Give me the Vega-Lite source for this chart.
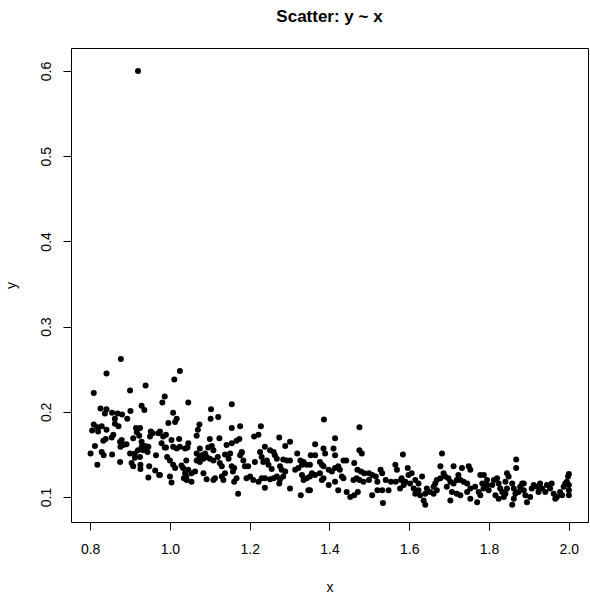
{
"$schema": "https://vega.github.io/schema/vega-lite/v6.json",
"width": 517, "height": 474,
"autosize": {"type": "none"},
"padding": {"left": 71, "top": 48, "right": 2, "bottom": 75},
"background": "white",
"config": {"view": {"stroke": "black", "strokeWidth": 1}, "font": "Liberation Sans"},
"title": {"text": "Scatter: y ~ x", "font": "Liberation Sans", "fontSize": 17, "fontWeight": "bold", "color": "black", "anchor": "middle", "offset": 22},
"data": {"values": [
{"x":0.92,"y":0.6},
{"x":0.877,"y":0.262},{"x":0.841,"y":0.245},{"x":0.809,"y":0.222},{"x":0.900,"y":0.225},{"x":0.939,"y":0.231},{"x":0.981,"y":0.211},{"x":0.929,"y":0.207},{"x":0.936,"y":0.202},{"x":0.826,"y":0.204},{"x":0.841,"y":0.203},{"x":0.837,"y":0.198},{"x":0.855,"y":0.199},{"x":0.869,"y":0.198},{"x":0.880,"y":0.197},{"x":0.901,"y":0.201},{"x":0.862,"y":0.192},{"x":0.893,"y":0.192},{"x":0.809,"y":0.185},{"x":0.818,"y":0.182},{"x":0.805,"y":0.178},{"x":0.820,"y":0.177},{"x":0.841,"y":0.179},{"x":0.862,"y":0.186},{"x":0.858,"y":0.173},{"x":0.854,"y":0.170},{"x":0.839,"y":0.168},{"x":0.833,"y":0.166},{"x":0.812,"y":0.160},{"x":0.801,"y":0.151},{"x":0.829,"y":0.153},{"x":0.834,"y":0.149},{"x":0.818,"y":0.138},{"x":0.855,"y":0.150},{"x":0.875,"y":0.165},{"x":0.883,"y":0.161},{"x":0.876,"y":0.159},{"x":0.891,"y":0.162},{"x":0.908,"y":0.169},{"x":0.915,"y":0.181},{"x":0.925,"y":0.181},{"x":0.923,"y":0.172},{"x":0.929,"y":0.165},{"x":0.929,"y":0.159},{"x":0.937,"y":0.157},{"x":0.946,"y":0.159},{"x":0.920,"y":0.155},{"x":0.952,"y":0.177},{"x":0.950,"y":0.171},{"x":0.971,"y":0.175},{"x":0.900,"y":0.151},{"x":0.912,"y":0.151},{"x":0.925,"y":0.147},{"x":0.875,"y":0.141},{"x":0.904,"y":0.140},{"x":0.908,"y":0.136},{"x":0.926,"y":0.138},{"x":0.926,"y":0.133},{"x":0.948,"y":0.136},{"x":0.946,"y":0.123},{"x":0.973,"y":0.126},{"x":0.965,"y":0.149},{"x":0.987,"y":0.158},{"x":0.983,"y":0.171},{"x":0.879,"y":0.167},
{"x":0.938,"y":0.160},{"x":0.933,"y":0.155},{"x":0.944,"y":0.153},{"x":0.917,"y":0.176},{"x":0.957,"y":0.175},{"x":0.871,"y":0.183},{"x":0.829,"y":0.183},{"x":0.912,"y":0.146},{"x":0.963,"y":0.131},
{"x":1.025,"y":0.248},{"x":1.011,"y":0.238},{"x":0.987,"y":0.218},{"x":1.046,"y":0.211},{"x":1.155,"y":0.209},{"x":1.103,"y":0.203},{"x":1.008,"y":0.199},{"x":1.017,"y":0.192},{"x":1.013,"y":0.188},{"x":0.996,"y":0.187},{"x":1.102,"y":0.192},{"x":1.121,"y":0.194},{"x":1.074,"y":0.185},{"x":1.070,"y":0.179},{"x":1.067,"y":0.172},{"x":1.155,"y":0.181},{"x":1.176,"y":0.183},{"x":0.990,"y":0.173},{"x":1.004,"y":0.167},{"x":1.023,"y":0.168},{"x":1.046,"y":0.163},{"x":1.100,"y":0.168},{"x":1.124,"y":0.169},{"x":1.008,"y":0.159},{"x":1.017,"y":0.157},{"x":1.025,"y":0.159},{"x":0.990,"y":0.158},{"x":1.038,"y":0.157},{"x":1.044,"y":0.158},{"x":1.075,"y":0.157},{"x":1.105,"y":0.160},{"x":1.109,"y":0.155},{"x":1.142,"y":0.161},{"x":1.155,"y":0.163},{"x":1.167,"y":0.166},{"x":1.174,"y":0.168},{"x":0.993,"y":0.147},{"x":1.000,"y":0.143},{"x":1.008,"y":0.138},{"x":1.013,"y":0.134},{"x":0.975,"y":0.126},{"x":1.000,"y":0.124},{"x":1.004,"y":0.117},{"x":1.033,"y":0.134},{"x":1.038,"y":0.128},{"x":1.035,"y":0.122},{"x":1.042,"y":0.120},{"x":1.054,"y":0.128},{"x":1.054,"y":0.118},{"x":1.067,"y":0.151},{"x":1.074,"y":0.147},{"x":1.080,"y":0.149},{"x":1.084,"y":0.145},{"x":1.088,"y":0.151},{"x":1.092,"y":0.147},{"x":1.067,"y":0.143},{"x":1.075,"y":0.141},{"x":1.100,"y":0.145},{"x":1.109,"y":0.143},{"x":1.084,"y":0.128},{"x":1.092,"y":0.121},{"x":1.109,"y":0.120},{"x":1.113,"y":0.122},{"x":1.130,"y":0.124},{"x":1.138,"y":0.128},{"x":1.134,"y":0.120},{"x":1.125,"y":0.140},{"x":1.130,"y":0.136},{"x":1.138,"y":0.150},{"x":1.147,"y":0.145},{"x":1.151,"y":0.151},{"x":1.155,"y":0.136},{"x":1.161,"y":0.134},{"x":1.158,"y":0.130},{"x":1.167,"y":0.122},{"x":1.161,"y":0.118},{"x":1.171,"y":0.104},{"x":1.180,"y":0.153},{"x":1.176,"y":0.149},{"x":0.975,"y":0.177},{"x":0.979,"y":0.163},
{"x":1.029,"y":0.137},{"x":1.041,"y":0.143},{"x":1.046,"y":0.132},{"x":1.041,"y":0.124},{"x":1.063,"y":0.130},{"x":1.120,"y":0.147},{"x":1.096,"y":0.158},
{"x":1.228,"y":0.183},{"x":1.211,"y":0.171},{"x":1.222,"y":0.173},{"x":1.274,"y":0.170},{"x":1.289,"y":0.160},{"x":1.386,"y":0.191},{"x":1.364,"y":0.162},{"x":1.319,"y":0.151},{"x":1.353,"y":0.149},{"x":1.364,"y":0.149},{"x":1.385,"y":0.157},{"x":1.180,"y":0.152},{"x":1.226,"y":0.153},{"x":1.238,"y":0.159},{"x":1.251,"y":0.155},{"x":1.260,"y":0.153},{"x":1.230,"y":0.147},{"x":1.234,"y":0.141},{"x":1.243,"y":0.143},{"x":1.213,"y":0.141},{"x":1.184,"y":0.143},{"x":1.188,"y":0.136},{"x":1.196,"y":0.136},{"x":1.247,"y":0.138},{"x":1.255,"y":0.133},{"x":1.276,"y":0.136},{"x":1.284,"y":0.144},{"x":1.293,"y":0.143},{"x":1.301,"y":0.143},{"x":1.263,"y":0.149},{"x":1.268,"y":0.145},{"x":1.192,"y":0.122},{"x":1.201,"y":0.124},{"x":1.209,"y":0.120},{"x":1.222,"y":0.118},{"x":1.230,"y":0.122},{"x":1.238,"y":0.122},{"x":1.251,"y":0.121},{"x":1.260,"y":0.122},{"x":1.268,"y":0.124},{"x":1.276,"y":0.121},{"x":1.284,"y":0.124},{"x":1.238,"y":0.111},{"x":1.274,"y":0.116},{"x":1.301,"y":0.110},{"x":1.280,"y":0.132},{"x":1.289,"y":0.130},{"x":1.314,"y":0.132},{"x":1.322,"y":0.134},{"x":1.331,"y":0.138},{"x":1.335,"y":0.141},{"x":1.327,"y":0.143},{"x":1.331,"y":0.126},{"x":1.335,"y":0.120},{"x":1.343,"y":0.122},{"x":1.351,"y":0.124},{"x":1.356,"y":0.128},{"x":1.364,"y":0.126},{"x":1.376,"y":0.128},{"x":1.381,"y":0.120},{"x":1.381,"y":0.138},{"x":1.376,"y":0.141},{"x":1.328,"y":0.102},{"x":1.347,"y":0.108},{"x":1.351,"y":0.108},{"x":1.301,"y":0.165},{"x":1.343,"y":0.138},{"x":1.351,"y":0.138},
{"x":1.475,"y":0.182},{"x":1.414,"y":0.169},{"x":1.410,"y":0.157},{"x":1.389,"y":0.151},{"x":1.414,"y":0.149},{"x":1.435,"y":0.143},{"x":1.442,"y":0.143},{"x":1.475,"y":0.155},{"x":1.481,"y":0.151},{"x":1.584,"y":0.150},{"x":1.385,"y":0.136},{"x":1.398,"y":0.132},{"x":1.406,"y":0.130},{"x":1.414,"y":0.134},{"x":1.422,"y":0.136},{"x":1.426,"y":0.132},{"x":1.385,"y":0.122},{"x":1.398,"y":0.114},{"x":1.414,"y":0.118},{"x":1.422,"y":0.108},{"x":1.431,"y":0.124},{"x":1.435,"y":0.122},{"x":1.462,"y":0.140},{"x":1.470,"y":0.132},{"x":1.479,"y":0.130},{"x":1.487,"y":0.128},{"x":1.499,"y":0.128},{"x":1.507,"y":0.126},{"x":1.516,"y":0.124},{"x":1.528,"y":0.132},{"x":1.532,"y":0.128},{"x":1.460,"y":0.120},{"x":1.468,"y":0.122},{"x":1.475,"y":0.120},{"x":1.485,"y":0.118},{"x":1.499,"y":0.120},{"x":1.520,"y":0.118},{"x":1.541,"y":0.120},{"x":1.554,"y":0.118},{"x":1.566,"y":0.118},{"x":1.579,"y":0.120},{"x":1.443,"y":0.106},{"x":1.452,"y":0.100},{"x":1.462,"y":0.102},{"x":1.471,"y":0.106},{"x":1.507,"y":0.102},{"x":1.520,"y":0.108},{"x":1.532,"y":0.108},{"x":1.548,"y":0.108},{"x":1.534,"y":0.093},{"x":1.577,"y":0.110},{"x":1.565,"y":0.138},{"x":1.569,"y":0.132},
{"x":1.682,"y":0.151},{"x":1.596,"y":0.134},{"x":1.598,"y":0.126},{"x":1.606,"y":0.128},{"x":1.678,"y":0.136},{"x":1.711,"y":0.136},{"x":1.749,"y":0.136},{"x":1.753,"y":0.132},{"x":1.732,"y":0.134},{"x":1.778,"y":0.126},{"x":1.581,"y":0.122},{"x":1.590,"y":0.118},{"x":1.586,"y":0.114},{"x":1.602,"y":0.116},{"x":1.615,"y":0.120},{"x":1.623,"y":0.116},{"x":1.632,"y":0.124},{"x":1.611,"y":0.110},{"x":1.615,"y":0.104},{"x":1.623,"y":0.108},{"x":1.627,"y":0.102},{"x":1.640,"y":0.104},{"x":1.644,"y":0.110},{"x":1.652,"y":0.106},{"x":1.661,"y":0.112},{"x":1.665,"y":0.116},{"x":1.669,"y":0.120},{"x":1.678,"y":0.122},{"x":1.686,"y":0.128},{"x":1.690,"y":0.124},{"x":1.698,"y":0.122},{"x":1.703,"y":0.118},{"x":1.711,"y":0.116},{"x":1.719,"y":0.120},{"x":1.723,"y":0.126},{"x":1.728,"y":0.120},{"x":1.736,"y":0.118},{"x":1.745,"y":0.116},{"x":1.753,"y":0.110},{"x":1.765,"y":0.112},{"x":1.774,"y":0.106},{"x":1.786,"y":0.110},{"x":1.795,"y":0.114},{"x":1.694,"y":0.112},{"x":1.707,"y":0.106},{"x":1.719,"y":0.104},{"x":1.728,"y":0.102},{"x":1.745,"y":0.106},{"x":1.753,"y":0.098},{"x":1.778,"y":0.102},{"x":1.636,"y":0.096},{"x":1.661,"y":0.104},{"x":1.669,"y":0.108},{"x":1.703,"y":0.096},{"x":1.770,"y":0.094},{"x":1.640,"y":0.091},
{"x":1.868,"y":0.144},{"x":1.868,"y":0.134},{"x":1.787,"y":0.126},{"x":1.795,"y":0.120},{"x":1.783,"y":0.116},{"x":1.799,"y":0.108},{"x":1.808,"y":0.114},{"x":1.812,"y":0.120},{"x":1.820,"y":0.122},{"x":1.824,"y":0.116},{"x":1.828,"y":0.110},{"x":1.833,"y":0.106},{"x":1.837,"y":0.100},{"x":1.824,"y":0.098},{"x":1.816,"y":0.102},{"x":1.841,"y":0.104},{"x":1.845,"y":0.110},{"x":1.849,"y":0.124},{"x":1.845,"y":0.128},{"x":1.858,"y":0.116},{"x":1.862,"y":0.110},{"x":1.866,"y":0.104},{"x":1.862,"y":0.098},{"x":1.874,"y":0.106},{"x":1.878,"y":0.112},{"x":1.883,"y":0.116},{"x":1.887,"y":0.108},{"x":1.891,"y":0.102},{"x":1.895,"y":0.094},{"x":1.903,"y":0.100},{"x":1.907,"y":0.110},{"x":1.912,"y":0.114},{"x":1.920,"y":0.112},{"x":1.924,"y":0.106},{"x":1.928,"y":0.116},{"x":1.933,"y":0.110},{"x":1.941,"y":0.106},{"x":1.945,"y":0.114},{"x":1.953,"y":0.110},{"x":1.957,"y":0.116},{"x":1.962,"y":0.104},{"x":1.966,"y":0.098},{"x":1.970,"y":0.100},{"x":1.978,"y":0.106},{"x":1.983,"y":0.102},{"x":1.987,"y":0.112},{"x":1.991,"y":0.116},{"x":1.995,"y":0.118},{"x":2.000,"y":0.114},{"x":2.000,"y":0.108},{"x":2.000,"y":0.102},{"x":1.858,"y":0.091},{"x":1.841,"y":0.118},{"x":1.887,"y":0.116},{"x":2.000,"y":0.127},{"x":1.998,"y":0.124}
]},
"mark": {"type": "circle", "size": 36, "color": "black", "opacity": 1},
"encoding": {
"x": {"field": "x", "type": "quantitative",
 "scale": {"domain": [0.752, 2.048], "nice": false, "zero": false},
 "axis": {"values": [0.8, 1.0, 1.2, 1.4, 1.6, 1.8, 2.0], "format": ".1f", "domain": false, "grid": false, "tickColor": "black", "tickSize": 8, "labelFont": "Liberation Sans", "labelFontSize": 14, "labelColor": "black", "labelPadding": 12, "title": "x", "titleFont": "Liberation Sans", "titleFontSize": 14, "titleFontWeight": "normal", "titleColor": "black", "titleBaseline": "alphabetic", "titleY": 69}},
"y": {"field": "y", "type": "quantitative",
 "scale": {"domain": [0.0707, 0.627], "nice": false, "zero": false},
 "axis": {"values": [0.1, 0.2, 0.3, 0.4, 0.5, 0.6], "format": ".1f", "domain": false, "grid": false, "tickColor": "black", "tickSize": 8, "labelAngle": 270, "labelAlign": "center", "labelBaseline": "alphabetic", "labelPadding": 13, "labelFont": "Liberation Sans", "labelFontSize": 14, "labelColor": "black", "title": "y", "titleFont": "Liberation Sans", "titleFontSize": 14, "titleFontWeight": "normal", "titleColor": "black", "titleAngle": 270, "titleAlign": "center", "titleBaseline": "alphabetic", "titleX": -56, "titleY": 237}}
}
}
